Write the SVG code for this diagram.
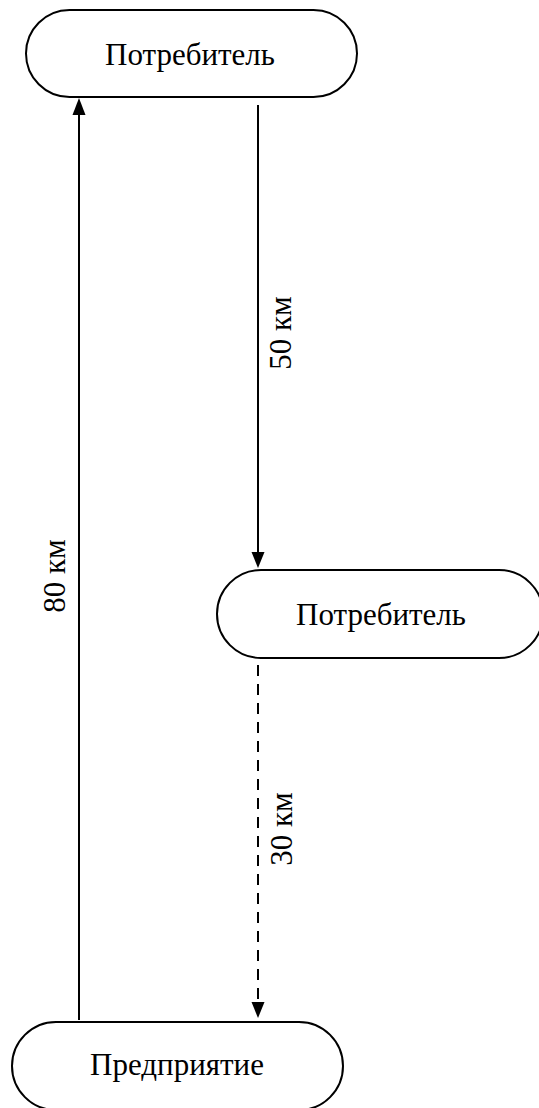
<svg xmlns="http://www.w3.org/2000/svg" width="539" height="1108" viewBox="0 0 539 1108">
  <style>
    .node { fill: #ffffff; stroke: #000000; stroke-width: 2; }
    .label { font-family: "Liberation Serif", "Times New Roman", serif; font-size: 31px; fill: #000000; text-anchor: middle; }
    .edge { fill: none; stroke: #000000; stroke-width: 2; }
    .dashed { stroke-dasharray: 11 8; }
    .head { fill: #000000; stroke: none; }
  </style>
  <rect x="0" y="0" width="539" height="1108" fill="#ffffff"/>

  <g id="consumer-top">
    <rect class="node" x="26" y="10" width="331" height="87" rx="43.5" ry="43.5"/>
    <text class="label" x="190" y="65">Потребитель</text>
  </g>

  <g id="consumer-middle">
    <rect class="node" x="217" y="570" width="326" height="88" rx="44" ry="44"/>
    <text class="label" x="381" y="625">Потребитель</text>
  </g>

  <g id="enterprise">
    <rect class="node" x="12" y="1022" width="331" height="88" rx="44" ry="44"/>
    <text class="label" x="177" y="1075">Предприятие</text>
  </g>

  <g id="connectors">
    <!-- enterprise up to the first consumer, 80 km -->
    <line class="edge" x1="79" y1="1020" x2="79" y2="112"/>
    <polygon class="head" points="79,98 72.5,115 85.5,115"/>
    <text class="label" transform="translate(65 576) rotate(-90)">80 км</text>

    <!-- first consumer down to the second, 50 km -->
    <line class="edge" x1="258" y1="105" x2="258" y2="555"/>
    <polygon class="head" points="258,568 251.5,552 264.5,552"/>
    <text class="label" transform="translate(291 333) rotate(-90)">50 км</text>

    <!-- second consumer back to the enterprise, 30 km -->
    <line class="edge dashed" x1="258" y1="665" x2="258" y2="1005"/>
    <polygon class="head" points="258,1018 251.5,1002 264.5,1002"/>
    <text class="label" transform="translate(292 829) rotate(-90)">30 км</text>
  </g>
</svg>
